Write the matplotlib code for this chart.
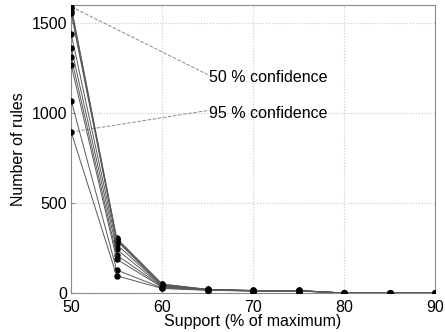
import matplotlib
matplotlib.use("Agg")
import matplotlib.pyplot as plt

plt.rcParams['font.family'] = ['Liberation Sans', 'DejaVu Sans']

support = [50, 55, 60, 65, 70, 75, 80, 85, 90]
conf_labels = ["50", "55", "60", "65", "70", "75", "80", "85", "90", "95"]
rules_c50 = [1592, 305, 50, 20, 14, 14, 0, 0, 0]
rules_c55 = [1585, 300, 48, 20, 14, 14, 0, 0, 0]
rules_c60 = [1570, 295, 45, 19, 13, 13, 0, 0, 0]
rules_c65 = [1555, 290, 42, 19, 13, 13, 0, 0, 0]
rules_c70 = [1440, 270, 40, 18, 13, 13, 0, 0, 0]
rules_c75 = [1365, 243, 38, 18, 12, 12, 0, 0, 0]
rules_c80 = [1310, 211, 35, 17, 12, 12, 0, 0, 0]
rules_c85 = [1268, 188, 32, 17, 12, 12, 0, 0, 0]
rules_c90 = [1070, 128, 28, 16, 11, 11, 0, 0, 0]
rules_c95 = [895, 96, 25, 15, 11, 11, 0, 0, 0]
series = [rules_c50, rules_c55, rules_c60, rules_c65, rules_c70,
          rules_c75, rules_c80, rules_c85, rules_c90, rules_c95]

fig = plt.figure(figsize=(4.45, 3.32), dpi=100)
ax = fig.add_axes([0.16, 0.1175, 0.8175, 0.8665])

for s in series:
    ax.plot(support, s, color='#5a5a5a', lw=0.7, marker='o', ms=3.6,
            mfc='black', mec='black', zorder=3)

ax.set_xlim(50, 90)
ax.set_ylim(0, 1600)
ax.set_xticks([50, 60, 70, 80, 90])
ax.set_yticks([0, 500, 1000, 1500])
ax.grid(True, linestyle=':', color='#c8c8c8', lw=0.8)
ax.set_axisbelow(True)
for sp in ax.spines.values():
    sp.set_color('#8a8a8a')
    sp.set_linewidth(0.8)
ax.tick_params(direction='in', length=3, color='#8a8a8a', labelsize=11.5,
               labelcolor='black')
ax.tick_params(axis='x', pad=5)
ax.tick_params(axis='y', pad=3)

ax.set_xlabel('Support (% of maximum)', fontsize=11.5, labelpad=-1)
ax.set_ylabel('Number of rules', fontsize=11.5, labelpad=4)

# annotations
ax.plot([support[0], 65.0], [rules_c50[0], 1215], linestyle='--', color='#8a8a8a', lw=0.7, zorder=2)
ax.plot([support[0], 65.0], [rules_c95[0], 1015], linestyle='--', color='#8a8a8a', lw=0.7, zorder=2)
ax.text(65.1, 1196, conf_labels[0] + ' % confidence', fontsize=11.5, va='center', ha='left')
ax.text(65.1, 1001, conf_labels[-1] + ' % confidence', fontsize=11.5, va='center', ha='left')

fig.savefig('out.png', dpi=100)
